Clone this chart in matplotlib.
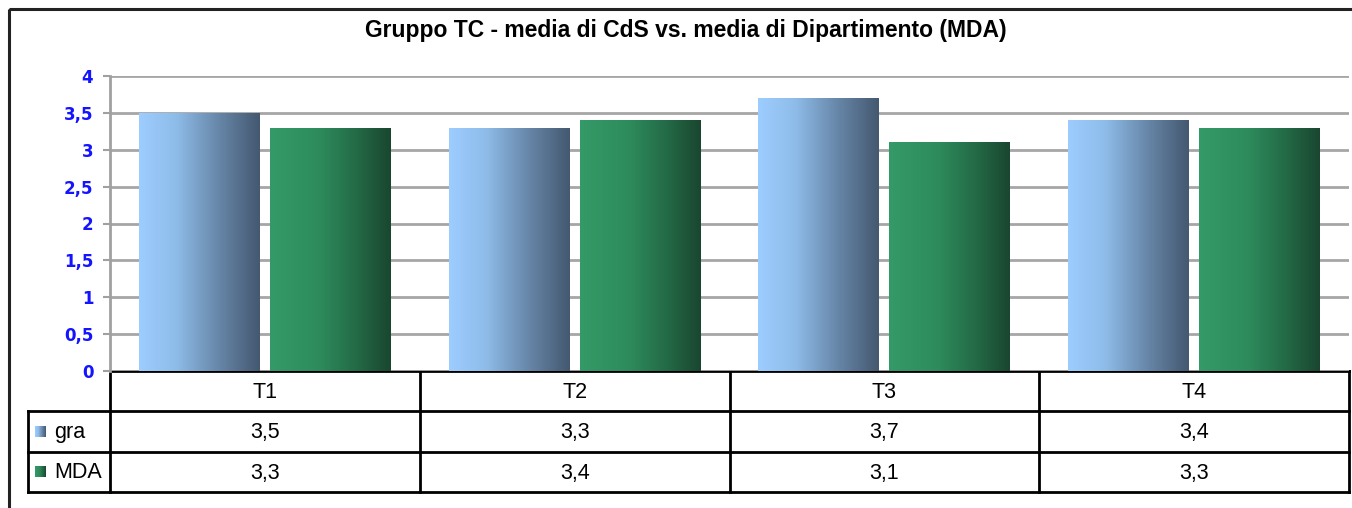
import matplotlib
matplotlib.use('Agg')
import matplotlib.pyplot as plt
from matplotlib.colors import LinearSegmentedColormap
from matplotlib.patches import Rectangle
import numpy as np

# Dati
categorie = ['T1', 'T2', 'T3', 'T4']
gra = [3.5, 3.3, 3.7, 3.4]
mda = [3.3, 3.4, 3.1, 3.3]
serie_nomi = ['gra', 'MDA']
yticks = [0, 0.5, 1, 1.5, 2, 2.5, 3, 3.5, 4]
titolo = 'Gruppo TC - media di CdS vs. media di Dipartimento (MDA)'

W, H = 1352, 508
plt.rcParams['font.family'] = ['Liberation Sans', 'DejaVu Sans']
fig = plt.figure(figsize=(W / 100, H / 100), dpi=100)

# sfumature
cmap_gra = LinearSegmentedColormap.from_list(
    'gra', [(0, '#9dccff'), (0.3, '#8fbdea'), (0.65, '#6888aa'), (1, '#445870')])
cmap_mda = LinearSegmentedColormap.from_list(
    'mda', [(0, '#349a67'), (0.4, '#2e8c5c'), (0.72, '#236a46'), (1, '#1a4630')])

# overlay in pixel per cornice e tabella
ov = fig.add_axes([0, 0, 1, 1], zorder=0)
ov.set_xlim(0, W)
ov.set_ylim(H, 0)
ov.axis('off')
ov.patch.set_alpha(0)

# assi principali
x0, x1, ytop, ybot = 110, 1349, 76, 371
ax = fig.add_axes([x0 / W, (H - ybot) / H, (x1 - x0) / W, (ybot - ytop) / H], zorder=1)
ax.patch.set_alpha(0)

x = np.arange(len(categorie))
w = 0.39
off = 0.2115
grad = np.linspace(0, 1, 256).reshape(1, -1)
for vals, dx, cm in [(gra, -off, cmap_gra), (mda, off, cmap_mda)]:
    bars = ax.bar(x + dx, vals, w, color='none', zorder=3)
    for b in bars:
        bx, by = b.get_x(), b.get_y()
        im = ax.imshow(grad, cmap=cm, aspect='auto', zorder=3,
                       extent=(bx, bx + b.get_width(), by, by + b.get_height()))
        im.set_clip_path(b)

ax.set_xlim(-0.5, len(categorie) - 0.5)
ax.set_ylim(0, 4)
ax.set_yticks(yticks)
ax.set_yticklabels([f'{v:g}'.replace('.', ',') for v in yticks],
                   fontfamily='DejaVu Sans', fontweight='bold', fontsize=12, color='#1414ff')
ax.tick_params(axis='y', length=5, width=1.5, color='#a0a0a0', pad=7)
ax.set_xticks([])
ax.grid(axis='y', color='#a6a6a6', linewidth=2, zorder=0)
for s in ['top', 'right', 'bottom']:
    ax.spines[s].set_visible(False)
ax.spines['left'].set_color('#a0a0a0')
ax.spines['left'].set_linewidth(2)

# titolo
ov.text(W / 2 + 10, 31, titolo, ha='center', va='center', fontsize=16.5, fontweight='bold')

# cornice esterna
ov.add_patch(Rectangle((8.5, 8.5), W + 20, H + 20, fill=False, edgecolor='#222222', linewidth=2.2))

# tabella dati
col_w = (x1 - x0) / len(categorie)
r0, r1, r2, r3 = 371, 411, 452, 492
lk = dict(color='black', linewidth=2, solid_capstyle='projecting')
ov.plot([x0, x1], [r0, r0], **lk)
for yy in [r1, r2, r3]:
    ov.plot([28, x1], [yy, yy], **lk)
ov.plot([28, 28], [r1, r3], **lk)
for i in range(len(categorie) + 1):
    xx = x0 + i * col_w
    ov.plot([xx, xx], [r0, r3], **lk)
fs = 15.5
for i, c in enumerate(categorie):
    cx = x0 + (i + 0.5) * col_w
    ov.text(cx, (r0 + r1) / 2 + 1, c, ha='center', va='center', fontsize=fs)
    ov.text(cx, (r1 + r2) / 2 + 1, f'{gra[i]:.1f}'.replace('.', ','), ha='center', va='center', fontsize=fs)
    ov.text(cx, (r2 + r3) / 2 + 1, f'{mda[i]:.1f}'.replace('.', ','), ha='center', va='center', fontsize=fs)

# legenda nella tabella
for nome, cm, (ra, rb) in [(serie_nomi[0], cmap_gra, (r1, r2)), (serie_nomi[1], cmap_mda, (r2, r3))]:
    cy = (ra + rb) / 2
    ov.imshow(grad, cmap=cm, aspect='auto', extent=(35, 46, cy + 5.5, cy - 5.5), zorder=2)
    ov.text(54, cy + 1, nome, ha='left', va='center', fontsize=fs)
ov.set_xlim(0, W)
ov.set_ylim(H, 0)

fig.savefig('out.png', dpi=100)
